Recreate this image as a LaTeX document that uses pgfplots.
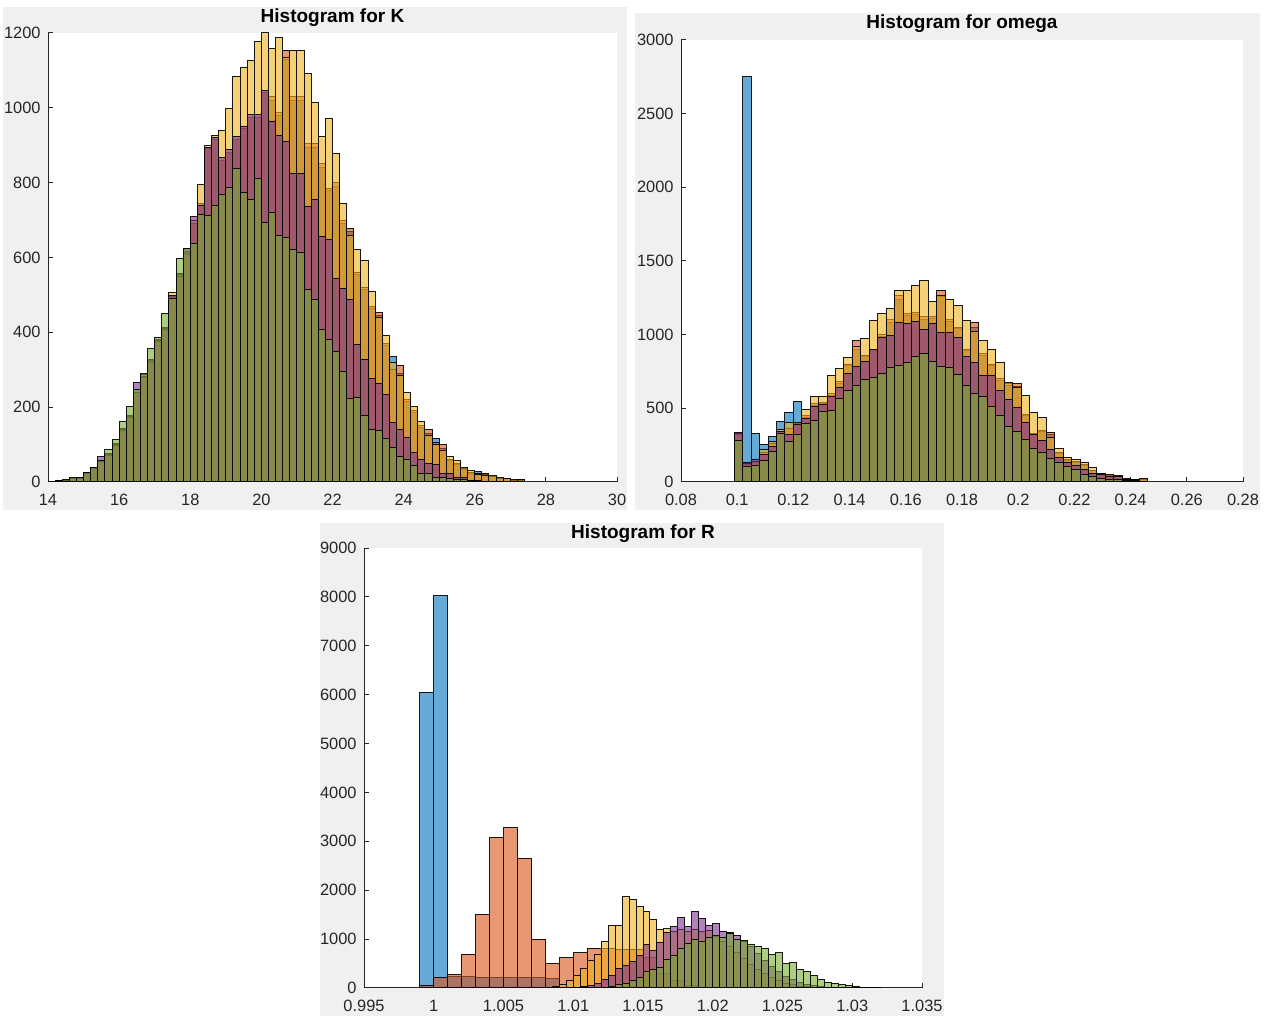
\documentclass[border=0pt]{standalone}
\usepackage{pgfplots}
\pgfplotsset{compat=1.18}
\usepackage{pgfplotstable}
\usepackage{fontspec}
\setmainfont{Liberation Sans}

% MATLAB default line colours
\definecolor{mB}{rgb}{0,0.447,0.741}
\definecolor{mO}{rgb}{0.85,0.325,0.098}
\definecolor{mY}{rgb}{0.929,0.694,0.125}
\definecolor{mP}{rgb}{0.494,0.184,0.556}
\definecolor{mG}{rgb}{0.466,0.674,0.188}
\definecolor{figgray}{RGB}{240,240,240}
\definecolor{axgray}{rgb}{0.15,0.15,0.15}

\pgfplotsset{
  mlaxis/.style={
    scale only axis,
    axis lines*=left,
    axis line style={-, draw=axgray, line width=0.5pt},
    axis background/.style={fill=white},
    tick align=inside,
    major tick length=2.5pt,
    tick style={draw=axgray, line width=0.5pt},
    tick label style={font=\fontsize{8.2}{9}\selectfont, text=axgray},
    xticklabel style={anchor=north, inner sep=0pt, yshift=-6pt},
    yticklabel style={anchor=east, inner sep=0pt, xshift=-3.5pt},
    every axis title/.style={at={(0.5,1)}, anchor=base, inner sep=0pt,
      font=\bfseries\fontsize{9.5}{11}\selectfont},
    enlargelimits=false,
    ymin=0,
  },
  hist/.style={ybar, bar shift=0pt, draw=black, draw opacity=0.9, line width=0.5pt, fill opacity=0.6},
}

% K: bin centres, counts for the five chains
\pgfplotstableread{
x b o y p g
14.1 1 1 1 1 1
14.3 2 2 2 3 3
14.5 5 5 4 5 6
14.7 10 10 10 11 12
14.9 11 11 10 12 12
15.1 24 24 23 25 26
15.3 38 38 37 39 40
15.5 55 55 54 68 57
15.7 74 74 72 76 86
15.9 100 100 98 102 113
16.1 140 140 138 143 162
16.3 175 175 172 178 202
16.5 240 240 238 267 246
16.7 282 282 280 286 289
16.9 325 325 320 328 356
17.1 378 378 375 380 387
17.3 410 410 407 412 451
17.5 495 495 507 498 491
17.7 555 555 550 558 598
17.9 615 615 610 625 623
18.1 690 690 700 709 638
18.3 745 745 795 740 716
18.5 890 890 898 895 713
18.7 915 915 927 922 740
18.9 860 860 940 867 769
19.1 880 880 998 889 786
19.3 915 915 1085 924 838
19.5 945 945 1109 951 774
19.7 975 975 1127 982 755
19.9 975 975 1176 982 811
20.1 1040 1040 1201 1047 693
20.3 1020 1029 1158 963 721
20.5 980 987 1187 927 660
20.7 1130 1154 1134 910 654
20.9 1020 1031 1154 825 622
21.1 1020 1029 1154 825 614
21.3 895 905 1092 736 515
21.5 895 905 1013 755 489
21.7 840 850 923 657 408
21.9 780 785 972 647 380
22.1 790 800 878 544 349
22.3 690 700 745 518 295
22.5 670 678 660 487 222
22.7 555 560 622 367 227
22.9 515 520 591 327 177
23.1 465 470 509 276 141
23.3 445 453 440 262 138
23.5 365 370 391 233 117
23.7 335 300 320 159 91
23.9 290 310 285 141 68
24.1 215 220 238 120 61
24.3 185 190 202 80 44
24.5 145 150 162 61 24
24.7 130 140 125 49 24
24.9 117 105 100 46 13
25.1 90 100 85 24 13
25.3 58 60 68 24 8
25.5 48 50 58 12 6
25.7 33 35 39 12 6
25.9 24 25 30 5 3
26.1 28 24 20 4 2
26.3 20 24 18 2 1
26.5 14 15 17 1 1
26.7 10 10 11 1 0
26.9 8 8 9 0 0
27.1 5 5 6 0 0
27.3 6 4 6 0 0
}\Ktab

% omega: bin centres, counts for the five chains
\pgfplotstableread{
x b o y p g
0.1005 320 320 330 338 282
0.1035 2750 120 125 129 106
0.1065 327 135 140 151 113
0.1095 257 200 219 185 147
0.1125 309 260 275 241 208
0.1155 411 340 354 340 327
0.1185 474 360 404 325 275
0.1215 546 395 404 388 320
0.1245 440 450 494 433 399
0.1275 520 530 580 512 415
0.1305 530 540 580 528 478
0.1335 590 602 722 580 485
0.1365 670 680 767 641 564
0.1395 790 800 844 733 620
0.1425 900 959 918 783 654
0.1455 850 860 975 821 699
0.1485 890 902 1099 900 711
0.1515 990 1000 1144 979 733
0.1545 1080 1100 1178 997 776
0.1575 1240 1268 1302 1081 790
0.1605 1130 1144 1302 1076 810
0.1635 1140 1150 1336 1092 855
0.1665 1100 1120 1369 1035 873
0.1695 1110 1126 1223 1076 821
0.1725 1260 1302 1268 1013 783
0.1755 1090 1100 1239 1013 776
0.1785 1040 1050 1200 979 731
0.1815 890 902 1094 855 652
0.1845 1050 1083 1020 810 598
0.1875 860 873 959 726 580
0.1905 790 800 900 726 512
0.1935 690 700 810 618 449
0.1965 655 666 677 562 377
0.1995 650 666 640 505 343
0.2025 450 460 587 404 287
0.2055 325 332 474 320 230
0.2085 340 350 438 280 203
0.2115 320 336 300 223 158
0.2145 195 200 226 167 129
0.2175 145 150 167 133 106
0.2205 135 140 151 111 88
0.2235 115 120 133 83 50
0.2265 78 80 99 61 34
0.2295 60 61 61 50 27
0.2325 44 45 50 40 20
0.2355 38 40 45 35 20
0.2385 20 20 23 20 10
0.2415 14 14 16 12 5
0.2445 18 20 23 5 3
}\Wtab

\begin{document}
\begin{tikzpicture}
\useasboundingbox (0,0) rectangle (634pt,508pt);
\fill[white] (0,0) rectangle (634pt,508pt);
\fill[figgray] (1.5pt,253pt) rectangle (313.5pt,504.5pt);
\fill[figgray] (317.5pt,253pt) rectangle (630pt,501.5pt);
\fill[figgray] (160pt,0pt) rectangle (472pt,246.5pt);

% ---------------- K ----------------
\begin{axis}[mlaxis,
  at={(24pt,267pt)}, anchor=south west,
  width=284.5pt, height=224.5pt,
  xmin=14, xmax=30, ymax=1200,
  xtick={14,16,...,30},
  xticklabels={14,16,18,20,22,24,26,28,30},
  ytick={0,200,...,1200},
  yticklabels={0,200,400,600,800,1000,1200},
  title={Histogram for K},
  title style={yshift=5.2pt},
]
\addplot[hist, fill=mB, bar width=0.2] table[x=x,y=b]{\Ktab};
\addplot[hist, fill=mO, bar width=0.2] table[x=x,y=o]{\Ktab};
\addplot[hist, fill=mY, bar width=0.2] table[x=x,y=y]{\Ktab};
\addplot[hist, fill=mP, bar width=0.2] table[x=x,y=p]{\Ktab};
\addplot[hist, fill=mG, bar width=0.2] table[x=x,y=g]{\Ktab};
\end{axis}

% ---------------- omega ----------------
\begin{axis}[mlaxis,
  at={(340.5pt,267pt)}, anchor=south west,
  width=281pt, height=221pt,
  xmin=0.08, xmax=0.28, ymax=3000,
  xtick={0.08,0.1,0.12,0.14,0.16,0.18,0.2,0.22,0.24,0.26,0.28},
  xticklabels={0.08,0.1,0.12,0.14,0.16,0.18,0.2,0.22,0.24,0.26,0.28},
  ytick={0,500,...,3000},
  yticklabels={0,500,1000,1500,2000,2500,3000},
  title={Histogram for omega},
  title style={yshift=5.8pt},
]
\addplot[hist, fill=mB, bar width=0.003] table[x=x,y=b]{\Wtab};
\addplot[hist, fill=mO, bar width=0.003] table[x=x,y=o]{\Wtab};
\addplot[hist, fill=mY, bar width=0.003] table[x=x,y=y]{\Wtab};
\addplot[hist, fill=mP, bar width=0.003] table[x=x,y=p]{\Wtab};
\addplot[hist, fill=mG, bar width=0.003] table[x=x,y=g]{\Wtab};
\end{axis}

% ---------------- R ----------------
\begin{axis}[mlaxis,
  at={(182pt,14pt)}, anchor=south west,
  width=279pt, height=220pt,
  xmin=0.995, xmax=1.035, ymax=9000,
  xtick={0.995,1,1.005,1.01,1.015,1.02,1.025,1.03,1.035},
  xticklabels={0.995,1,1.005,1.01,1.015,1.02,1.025,1.03,1.035},
  ytick={0,1000,...,9000},
  yticklabels={0,1000,2000,3000,4000,5000,6000,7000,8000,9000},
  title={Histogram for R},
  title style={yshift=5pt},
]
\addplot[hist, fill=mB, bar width=0.001] coordinates {
(0.9995,6050) (1.0005,8020) (1.0015,230) (1.0025,225) (1.0035,220)
(1.0045,215) (1.0055,210) (1.0065,215) (1.0075,205) (1.0085,190)};
\addplot[hist, fill=mO, bar width=0.001] coordinates {
(0.9995,48) (1.0005,218) (1.0015,273) (1.0025,682) (1.0035,1500)
(1.0045,3082) (1.0055,3273) (1.0065,2659) (1.0075,1002) (1.0085,498)
(1.0095,614) (1.0105,716) (1.0115,818) (1.0125,798) (1.0135,790)
(1.0145,784) (1.0155,614) (1.0165,300) (1.0175,150) (1.0185,60) (1.0195,20)};
\addplot[hist, fill=mY, bar width=0.0005] coordinates {
(1.00825,10) (1.00875,34) (1.00925,68) (1.00975,150) (1.01025,252)
(1.01075,389) (1.01125,566) (1.01175,682) (1.01225,955) (1.01275,1282)
(1.01325,1282) (1.01375,1875) (1.01425,1820) (1.01475,1657) (1.01525,1568)
(1.01575,1411) (1.01625,1200) (1.01675,1207) (1.01725,1150) (1.01775,1200)
(1.01825,1150) (1.01875,1190) (1.01925,1150) (1.01975,1180) (1.02025,1050)
(1.02075,950) (1.02125,850) (1.02175,720) (1.02225,600) (1.02275,480)
(1.02325,380) (1.02375,290) (1.02425,210) (1.02475,150) (1.02525,100)
(1.02575,65) (1.02625,40) (1.02675,22) (1.02725,12) (1.02775,5)};
\addplot[hist, fill=mP, bar width=0.0005] coordinates {
(1.01025,10) (1.01075,34) (1.01125,55) (1.01175,102) (1.01225,170)
(1.01275,252) (1.01325,389) (1.01375,464) (1.01425,545) (1.01475,661)
(1.01525,886) (1.01575,764) (1.01625,934) (1.01675,1125) (1.01725,1248)
(1.01775,1432) (1.01825,1261) (1.01875,1555) (1.01925,1418) (1.01975,1275)
(1.02025,1316) (1.02075,1159) (1.02125,1140) (1.02175,1077) (1.02225,950)
(1.02275,850) (1.02325,700) (1.02375,560) (1.02425,430) (1.02475,330)
(1.02525,240) (1.02575,170) (1.02625,120) (1.02675,80) (1.02725,50)
(1.02775,30) (1.02825,20) (1.02875,10) (1.02925,5)};
\addplot[hist, fill=mG, bar width=0.0005] coordinates {
(1.01125,10) (1.01175,15) (1.01225,20) (1.01275,34) (1.01325,68)
(1.01375,89) (1.01425,150) (1.01475,205) (1.01525,341) (1.01575,375)
(1.01625,420) (1.01675,580) (1.01725,661) (1.01775,805) (1.01825,920)
(1.01875,1002) (1.01925,955) (1.01975,1023) (1.02025,1077) (1.02075,1023)
(1.02125,1105) (1.02175,1002) (1.02225,975) (1.02275,886) (1.02325,839)
(1.02375,818) (1.02425,682) (1.02475,716) (1.02525,498) (1.02575,525)
(1.02625,375) (1.02675,341) (1.02725,259) (1.02775,184) (1.02825,116)
(1.02875,102) (1.02925,68) (1.02975,55) (1.03025,34) (1.03075,15)
(1.03125,8) (1.03175,4)};
\end{axis}
\end{tikzpicture}
\end{document}
